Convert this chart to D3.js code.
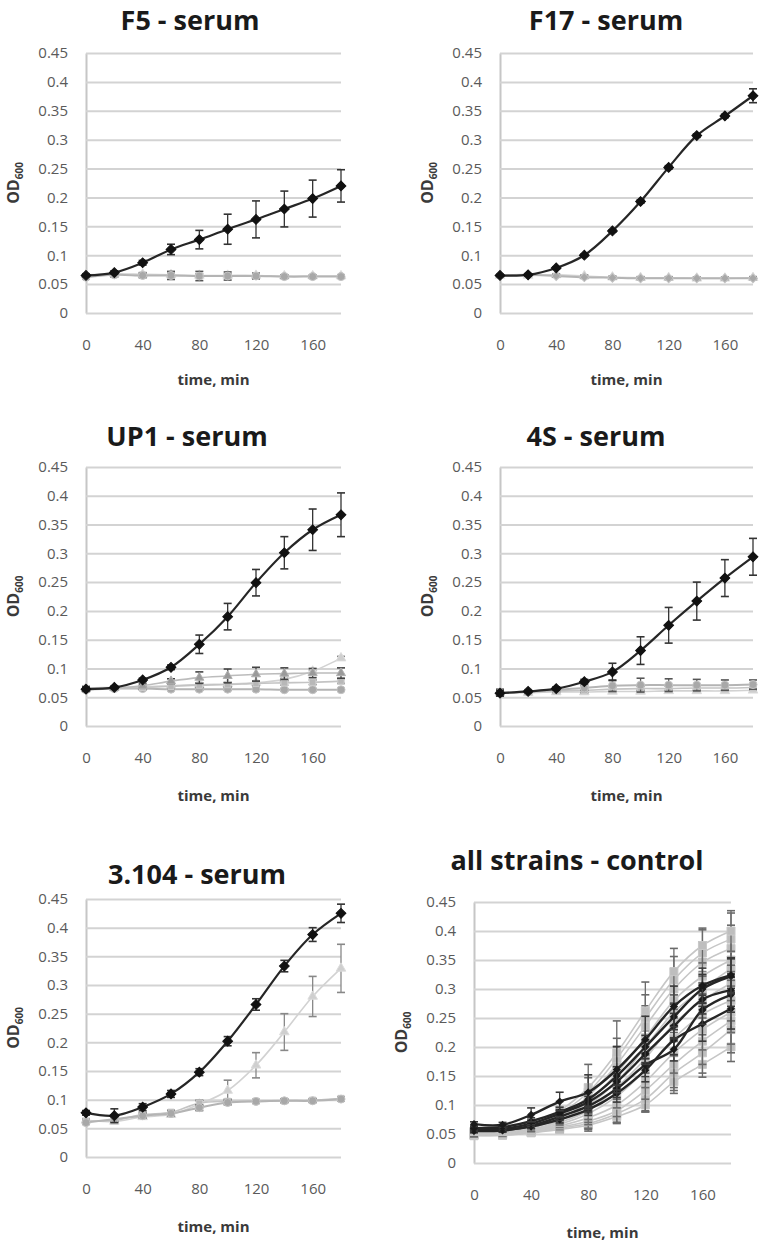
<!DOCTYPE html>
<html><head><meta charset="utf-8">
<script src="https://cdn.jsdelivr.net/npm/d3@7"></script>
<style>
html,body{margin:0;padding:0;background:#fff;}
svg{display:block;}
text{font-family:"Open Sans",sans-serif;}
</style></head><body>
<svg id="chart" width="767" height="1248"></svg>
<script>
// ---------- shared axes ----------
const times = [0,20,40,60,80,100,120,140,160,180];
const xTickValues = [0,40,80,120,160];
const yTickValues = [0,0.05,0.1,0.15,0.2,0.25,0.3,0.35,0.4,0.45];
const yTickLabels = ["0","0.05","0.1","0.15","0.2","0.25","0.3","0.35","0.4","0.45"];
const panelTitles = ["F5 - serum","F17 - serum","UP1 - serum","4S - serum","3.104 - serum","all strains - control"];
const xAxisTitle = "time, min";
const yAxisTitle = "OD";
const yAxisSub = "600";

// ---------- F5 - serum ----------
const f5Black    = [0.065,0.070,0.087,0.110,0.127,0.145,0.162,0.180,0.198,0.220];
const f5BlackErr = [0.002,0.003,0.004,0.009,0.016,0.026,0.032,0.031,0.032,0.028];
const f5GrayA    = [0.062,0.066,0.065,0.065,0.064,0.064,0.064,0.063,0.063,0.063];
const f5GrayAErr = [0.003,0.004,0.004,0.007,0.008,0.007,0.005,0.003,0.002,0.002];
const f5GrayB    = [0.066,0.068,0.067,0.066,0.065,0.065,0.065,0.064,0.064,0.064];
const f5GrayBErr = [0.002,0.003,0.003,0.003,0.003,0.003,0.002,0.002,0.002,0.002];

// ---------- F17 - serum ----------
const f17Black    = [0.065,0.066,0.078,0.100,0.142,0.193,0.252,0.307,0.341,0.376];
const f17BlackErr = [0.001,0.002,0.002,0.002,0.002,0.003,0.003,0.003,0.003,0.012];
const f17GrayA    = [0.065,0.066,0.064,0.062,0.061,0.060,0.060,0.060,0.060,0.060];
const f17GrayAErr = [0.002,0.002,0.002,0.002,0.002,0.002,0.002,0.002,0.002,0.002];
const f17GrayB    = [0.065,0.065,0.066,0.064,0.062,0.061,0.061,0.060,0.060,0.061];
const f17GrayBErr = [0.002,0.002,0.002,0.002,0.002,0.002,0.002,0.002,0.002,0.002];

// ---------- UP1 - serum ----------
const up1Black    = [0.064,0.067,0.080,0.102,0.142,0.190,0.249,0.301,0.341,0.367];
const up1BlackErr = [0.003,0.002,0.003,0.004,0.016,0.023,0.023,0.028,0.036,0.038];
const up1GrayA    = [0.066,0.067,0.068,0.070,0.072,0.073,0.075,0.081,0.095,0.118];
const up1GrayAErr = [0.003,0.002,0.002,0.002,0.002,0.002,0.002,0.002,0.002,0.003];
const up1GrayB    = [0.064,0.066,0.070,0.078,0.084,0.087,0.090,0.091,0.092,0.092];
const up1GrayBErr = [0.004,0.002,0.003,0.004,0.010,0.012,0.012,0.010,0.008,0.009];
const up1GrayC    = [0.065,0.066,0.067,0.069,0.071,0.072,0.074,0.075,0.076,0.078];
const up1GrayCErr = [0.004,0.003,0.003,0.004,0.004,0.004,0.004,0.004,0.004,0.004];
const up1GrayD    = [0.063,0.065,0.065,0.064,0.064,0.064,0.064,0.063,0.063,0.063];
const up1GrayDErr = [0.002,0.002,0.002,0.002,0.002,0.002,0.002,0.002,0.002,0.002];

// ---------- 4S - serum ----------
const s4Black    = [0.057,0.060,0.065,0.077,0.094,0.131,0.175,0.217,0.257,0.294];
const s4BlackErr = [0.005,0.002,0.003,0.004,0.015,0.024,0.031,0.033,0.032,0.032];
const s4GrayA    = [0.058,0.060,0.063,0.066,0.070,0.071,0.071,0.071,0.071,0.072];
const s4GrayAErr = [0.006,0.002,0.003,0.004,0.010,0.012,0.011,0.010,0.009,0.008];
const s4GrayB    = [0.058,0.059,0.061,0.062,0.064,0.065,0.065,0.066,0.066,0.067];
const s4GrayBErr = [0.004,0.003,0.003,0.004,0.004,0.004,0.004,0.004,0.004,0.004];
const s4GrayC    = [0.057,0.058,0.059,0.059,0.060,0.060,0.061,0.061,0.061,0.062];
const s4GrayCErr = [0.003,0.003,0.003,0.003,0.003,0.003,0.003,0.003,0.003,0.003];

// ---------- 3.104 - serum ----------
const t104Black    = [0.077,0.072,0.087,0.110,0.148,0.202,0.266,0.333,0.388,0.425];
const t104BlackErr = [0.004,0.012,0.006,0.006,0.006,0.008,0.010,0.010,0.012,0.016];
const t104GrayA    = [0.064,0.062,0.070,0.074,0.092,0.116,0.160,0.218,0.280,0.329];
const t104GrayAErr = [0.003,0.004,0.004,0.004,0.006,0.018,0.022,0.032,0.035,0.042];
const t104GrayB    = [0.060,0.066,0.072,0.076,0.086,0.095,0.097,0.098,0.098,0.101];
const t104GrayBErr = [0.003,0.003,0.004,0.004,0.005,0.004,0.003,0.003,0.003,0.003];
const t104GrayC    = [0.062,0.064,0.074,0.078,0.094,0.097,0.097,0.098,0.099,0.102];
const t104GrayCErr = [0.003,0.003,0.004,0.004,0.005,0.004,0.003,0.003,0.003,0.003];

// ---------- all strains - control ----------
const ctlDarkA    = [0.067,0.066,0.083,0.106,0.122,0.161,0.213,0.270,0.306,0.324];
const ctlDarkAErr = [0.004,0.004,0.012,0.016,0.030,0.040,0.040,0.035,0.030,0.030];
const ctlDarkB    = [0.060,0.062,0.072,0.088,0.110,0.150,0.200,0.252,0.300,0.322];
const ctlDarkBErr = [0.003,0.003,0.006,0.008,0.012,0.016,0.020,0.022,0.025,0.030];
const ctlDarkC    = [0.055,0.056,0.064,0.080,0.098,0.128,0.169,0.196,0.264,0.290];
const ctlDarkCErr = [0.003,0.003,0.004,0.006,0.010,0.015,0.020,0.020,0.025,0.030];
const ctlDarkD    = [0.056,0.057,0.063,0.075,0.092,0.120,0.160,0.212,0.240,0.266];
const ctlDarkDErr = [0.003,0.003,0.004,0.006,0.010,0.015,0.020,0.025,0.030,0.035];
const ctlDarkE    = [0.058,0.059,0.068,0.085,0.105,0.140,0.188,0.236,0.282,0.298];
const ctlDarkEErr = [0.003,0.003,0.005,0.007,0.010,0.014,0.018,0.022,0.025,0.028];
const ctlGray1  = [0.055,0.054,0.065,0.090,0.130,0.190,0.262,0.330,0.375,0.400];
const ctlGray1E = [0.010,0.008,0.010,0.016,0.040,0.055,0.050,0.040,0.030,0.035];
const ctlGray2  = [0.054,0.053,0.063,0.085,0.122,0.180,0.250,0.316,0.362,0.386];
const ctlGray2E = [0.008,0.006,0.008,0.012,0.025,0.035,0.040,0.040,0.040,0.045];
const ctlGray3  = [0.053,0.052,0.062,0.080,0.115,0.170,0.236,0.300,0.346,0.370];
const ctlGray3E = [0.006,0.006,0.008,0.010,0.020,0.030,0.035,0.035,0.035,0.040];
const ctlGray4  = [0.052,0.052,0.060,0.077,0.106,0.155,0.216,0.280,0.322,0.350];
const ctlGray4E = [0.006,0.005,0.006,0.010,0.018,0.025,0.030,0.030,0.030,0.035];
const ctlGray5  = [0.051,0.051,0.058,0.073,0.100,0.140,0.200,0.260,0.300,0.335];
const ctlGray5E = [0.005,0.005,0.006,0.008,0.015,0.020,0.028,0.030,0.030,0.030];
const ctlGray6  = [0.050,0.050,0.057,0.070,0.090,0.130,0.180,0.240,0.280,0.310];
const ctlGray6E = [0.005,0.005,0.006,0.008,0.015,0.020,0.025,0.030,0.030,0.030];
const ctlGray7  = [0.050,0.050,0.056,0.067,0.085,0.115,0.160,0.215,0.256,0.280];
const ctlGray7E = [0.005,0.005,0.005,0.008,0.015,0.020,0.030,0.030,0.035,0.035];
const ctlGray8  = [0.049,0.049,0.055,0.064,0.078,0.100,0.140,0.190,0.230,0.260];
const ctlGray8E = [0.005,0.005,0.005,0.007,0.012,0.020,0.030,0.035,0.035,0.035];
const ctlGray9  = [0.048,0.049,0.054,0.062,0.072,0.090,0.125,0.170,0.210,0.245];
const ctlGray9E = [0.005,0.004,0.005,0.006,0.012,0.020,0.035,0.040,0.040,0.040];
const ctlGray10  = [0.048,0.048,0.053,0.060,0.068,0.085,0.110,0.155,0.190,0.230];
const ctlGray10E = [0.004,0.004,0.005,0.006,0.010,0.015,0.022,0.030,0.035,0.040];
const ctlGray11  = [0.047,0.048,0.052,0.058,0.065,0.080,0.100,0.140,0.170,0.200];
const ctlGray11E = [0.004,0.004,0.005,0.006,0.010,0.012,0.012,0.020,0.022,0.025];

// ---------- layout (positions only) ----------
const S = (v, e, kind) => ({v, e, kind});
const panels = [
  {title:panelTitles[0], L:86,  T:53,  R:341, B:313,  tx:190, ty:30,  xl:72,
   series:[S(f5GrayB,f5GrayBErr,"lightTri"),S(f5GrayA,f5GrayAErr,"grayCircle"),S(f5Black,f5BlackErr,"black")]},
  {title:panelTitles[1], L:500, T:53,  R:753, B:313,  tx:606, ty:30,  xl:72,
   series:[S(f17GrayB,f17GrayBErr,"lightTri"),S(f17GrayA,f17GrayAErr,"grayDiamond"),S(f17Black,f17BlackErr,"black")]},
  {title:panelTitles[2], L:86,  T:467, R:341, B:726,  tx:187, ty:446, xl:75,
   series:[S(up1GrayA,up1GrayAErr,"lightTri"),S(up1GrayD,up1GrayDErr,"grayCircle"),S(up1GrayC,up1GrayCErr,"graySquare"),S(up1GrayB,up1GrayBErr,"grayX"),S(up1Black,up1BlackErr,"black")]},
  {title:panelTitles[3], L:500, T:467, R:753, B:726,  tx:596, ty:446, xl:75,
   series:[S(s4GrayC,s4GrayCErr,"lightTri"),S(s4GrayB,s4GrayBErr,"graySquare"),S(s4GrayA,s4GrayAErr,"grayCircle"),S(s4Black,s4BlackErr,"black")]},
  {title:panelTitles[4], L:86,  T:899, R:341, B:1157, tx:197, ty:884, xl:75,
   series:[S(t104GrayA,t104GrayAErr,"lightTri"),S(t104GrayC,t104GrayCErr,"graySquare"),S(t104GrayB,t104GrayBErr,"grayCircle"),S(t104Black,t104BlackErr,"black")]},
  {title:panelTitles[5], L:474, T:902, R:731, B:1163, tx:577, ty:870, xl:75,
   series:[
     S(ctlGray11,ctlGray11E,"ctlGray"),S(ctlGray10,ctlGray10E,"ctlGray"),S(ctlGray9,ctlGray9E,"ctlGray"),
     S(ctlGray8,ctlGray8E,"ctlGray"),S(ctlGray7,ctlGray7E,"ctlGray"),S(ctlGray6,ctlGray6E,"ctlGray"),
     S(ctlGray5,ctlGray5E,"ctlGray"),S(ctlGray4,ctlGray4E,"ctlGray"),S(ctlGray3,ctlGray3E,"ctlGray"),
     S(ctlGray2,ctlGray2E,"ctlGray"),S(ctlGray1,ctlGray1E,"ctlGray"),
     S(ctlDarkD,ctlDarkDErr,"ctlDark"),S(ctlDarkC,ctlDarkCErr,"ctlDark"),S(ctlDarkE,ctlDarkEErr,"ctlDark"),
     S(ctlDarkB,ctlDarkBErr,"ctlDark"),S(ctlDarkA,ctlDarkAErr,"ctlDark")]}
];

const styles = {
  black:      {line:"#262626", lw:2.2, sym:d3.symbolSquare,   rot:45, size:48, fill:"#111",    stroke:"#111",    err:"#333"},
  grayCircle: {line:"#b4b4b4", lw:2,   sym:d3.symbolCircle,   rot:0,  size:50, fill:"#a8a8a8", stroke:"#c4c4c4", err:"#555"},
  grayDiamond:{line:"#b4b4b4", lw:2,   sym:d3.symbolSquare,   rot:45, size:40, fill:"#a8a8a8", stroke:"#c4c4c4", err:"#777"},
  graySquare: {line:"#c4c4c4", lw:1.6, sym:d3.symbolSquare,   rot:0,  size:40, fill:"#b8b8b8", stroke:"#cccccc", err:"#666"},
  grayX:      {line:"#bcbcbc", lw:1.6, sym:d3.symbolTriangle, rot:0,  size:35, fill:"#9a9a9a", stroke:"#b0b0b0", err:"#444"},
  lightTri:   {line:"#d2d2d2", lw:1.6, sym:d3.symbolTriangle, rot:0,  size:40, fill:"#cfcfcf", stroke:"#dcdcdc", err:"#888"},
  ctlGray:    {line:"#c6c6c6", lw:1.6, sym:d3.symbolSquare,   rot:0,  size:64, fill:"#bebebe", stroke:"#c8c8c8", err:"#6a6a6a"},
  ctlDark:    {line:"#262626", lw:2.4, sym:d3.symbolSquare,   rot:45, size:22, fill:"#1a1a1a", stroke:"#1a1a1a", err:"#3a3a3a"}
};

const svg = d3.select("#chart");

panels.forEach(p => {
  const x = d3.scaleLinear().domain([0,180]).range([p.L, p.R]);
  const y = d3.scaleLinear().domain([0,0.45]).range([p.B, p.T]);
  const g = svg.append("g");

  // title
  g.append("text").attr("x", p.tx).attr("y", p.ty).attr("text-anchor","middle")
    .attr("font-size", 27).attr("font-weight", 700).attr("fill", "#1a1a1a").text(p.title);

  // y axis with gridlines
  const yAxis = d3.axisLeft(y).tickValues(yTickValues)
    .tickFormat((d,i) => yTickLabels[i]).tickSize(-(p.R - p.L)).tickSizeOuter(0).tickPadding(18);
  const ya = g.append("g").attr("transform", `translate(${p.L},0)`).call(yAxis);
  ya.select(".domain").attr("stroke", "#c6c6c6").attr("stroke-width", 2);
  ya.selectAll(".tick line").attr("stroke", "#d3d3d3").attr("stroke-width", 2);
  ya.selectAll(".tick text").attr("font-size", 15).attr("fill", "#5a5a5a")
    .attr("font-family", "'Open Sans',sans-serif");

  // x axis labels
  const xAxis = d3.axisBottom(x).tickValues(xTickValues).tickSize(0).tickPadding(26);
  const xa = g.append("g").attr("transform", `translate(0,${p.B})`).call(xAxis);
  xa.select(".domain").remove();
  xa.selectAll(".tick text").attr("font-size", 15).attr("fill", "#5a5a5a")
    .attr("font-family", "'Open Sans',sans-serif");

  // axis titles
  g.append("text").attr("x", (p.L + p.R) / 2).attr("y", p.B + p.xl).attr("text-anchor","middle")
    .attr("font-size", 15).attr("font-weight", 700).attr("fill", "#3a3a3a").text(xAxisTitle);
  const yt = g.append("text").attr("transform", `translate(${p.L - 67},${(p.T + p.B) / 2}) rotate(-90)`)
    .attr("text-anchor","middle").attr("font-size", 16).attr("font-weight", 700).attr("fill", "#3a3a3a");
  yt.append("tspan").text(yAxisTitle);
  yt.append("tspan").attr("font-size", 10).attr("dy", 4).text(yAxisSub);

  const line = d3.line().x((d,i) => x(times[i])).y(d => y(d)).curve(d3.curveCatmullRom.alpha(0.5));

  p.series.forEach(s => {
    const st = styles[s.kind];
    const sg = g.append("g");
    // error bars
    const eb = sg.selectAll("g.eb").data(s.v).join("g");
    eb.append("line").attr("x1",(d,i)=>x(times[i])).attr("x2",(d,i)=>x(times[i]))
      .attr("y1",(d,i)=>y(d - s.e[i])).attr("y2",(d,i)=>y(d + s.e[i]))
      .attr("stroke", st.err).attr("stroke-width", 1.3);
    [1,-1].forEach(sign => {
      eb.append("line").attr("x1",(d,i)=>x(times[i]) - 4).attr("x2",(d,i)=>x(times[i]) + 4)
        .attr("y1",(d,i)=>y(d + sign*s.e[i])).attr("y2",(d,i)=>y(d + sign*s.e[i]))
        .attr("stroke", st.err).attr("stroke-width", 1.6);
    });
    // line
    sg.append("path").datum(s.v).attr("d", line).attr("fill","none")
      .attr("stroke", st.line).attr("stroke-width", st.lw);
    // markers
    sg.selectAll("path.m").data(s.v).join("path").attr("class","m")
      .attr("transform",(d,i)=>`translate(${x(times[i])},${y(d)}) rotate(${st.rot})`)
      .attr("d", d3.symbol().type(st.sym).size(st.size))
      .attr("fill", st.fill).attr("stroke", st.stroke).attr("stroke-width", 1);
  });
});
</script>
</body></html>
